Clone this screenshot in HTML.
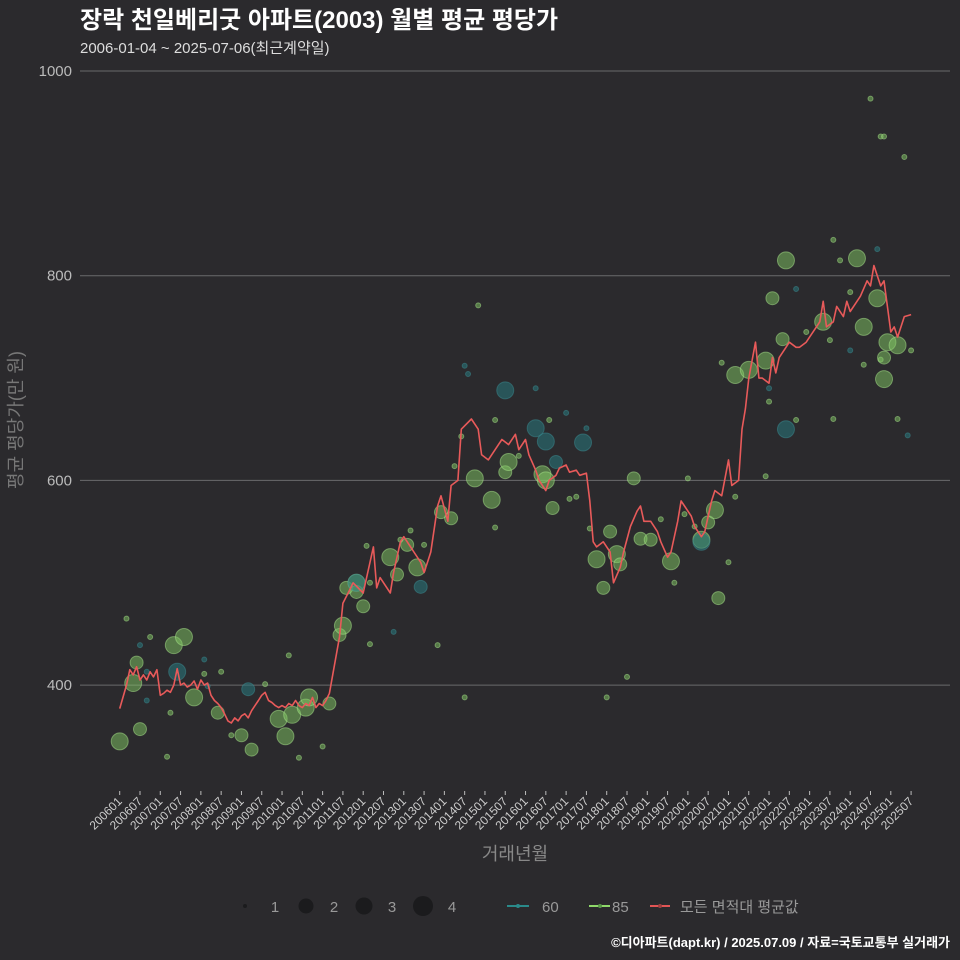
<!DOCTYPE html>
<html><head><meta charset="utf-8">
<style>
html,body{margin:0;padding:0;background:#2b2a2d;}
svg{display:block;font-family:"Liberation Sans","Noto Sans CJK KR",sans-serif;}
</style></head>
<body>
<svg id="chart" width="960" height="960" viewBox="0 0 960 960">
<rect x="0" y="0" width="960" height="960" fill="#2b2a2d"/>
<text x="80" y="28" fill="#ffffff" font-size="24" font-weight="bold">장락 천일베리굿 아파트(2003) 월별 평균 평당가</text>
<text x="80" y="53" fill="#dddddd" font-size="15">2006-01-04 ~ 2025-07-06(최근계약일)</text>
<g id="grid"></g>
<g id="yaxis"></g>
<g id="xaxis"></g>
<g id="points"></g>
<g id="avgline"></g>
<text transform="translate(22,420) rotate(-90)" text-anchor="middle" fill="#777777" font-size="18">평균 평당가(만 원)</text>
<text x="515" y="860" text-anchor="middle" fill="#888888" font-size="18">거래년월</text>
<g>
<circle cx="245" cy="906" r="2" fill="#1b1b1d"/>
<text x="275" y="912" text-anchor="middle" fill="#999" font-size="15">1</text>
<circle cx="306" cy="906" r="7.5" fill="#1b1b1d"/>
<text x="334" y="912" text-anchor="middle" fill="#999" font-size="15">2</text>
<circle cx="364" cy="906" r="8.5" fill="#1b1b1d"/>
<text x="392" y="912" text-anchor="middle" fill="#999" font-size="15">3</text>
<circle cx="423" cy="906" r="10" fill="#1b1b1d"/>
<text x="452" y="912" text-anchor="middle" fill="#999" font-size="15">4</text>
<line x1="507" y1="906" x2="529" y2="906" stroke="#2a8a8a" stroke-width="2"/>
<circle cx="518" cy="906" r="2" fill="#2a8a8a"/>
<text x="542" y="912" fill="#999" font-size="15">60</text>
<line x1="589" y1="906" x2="610" y2="906" stroke="#8fd96a" stroke-width="2"/>
<circle cx="600" cy="906" r="2" fill="#5a9a48"/>
<text x="612" y="912" fill="#999" font-size="15">85</text>
<line x1="650" y1="906" x2="670" y2="906" stroke="#e25555" stroke-width="2"/>
<circle cx="660" cy="906" r="2" fill="#a04040"/>
<text x="680" y="912" fill="#999" font-size="15">모든 면적대 평균값</text>
</g>
<text x="950" y="947" text-anchor="end" fill="#ffffff" font-size="13" font-weight="bold">©디아파트(dapt.kr) / 2025.07.09 / 자료=국토교통부 실거래가</text>
</svg>
<script>
const yTicks = [400, 600, 800, 1000];
const avgMonths = ['200601','200603','200604','200605','200606','200607','200608','200609','200610','200611','200612','200701','200702','200703','200704','200705','200706','200707','200708','200709','200710','200711','200712','200801','200802','200803','200804','200805','200806','200807','200808','200809','200810','200811','200812','200901','200902','200903','200904','200905','200906','200907','200908','200909','200910','200911','200912','201001','201002','201003','201004','201005','201006','201007','201008','201009','201010','201011','201012','201101','201102','201103','201106','201107','201109','201110','201201','201204','201205','201206','201209','201210','201212','201301','201303','201304','201306','201307','201308','201309','201311','201312','201402','201403','201405','201406','201409','201411','201412','201502','201503','201505','201506','201508','201510','201511','201601','201602','201604','201605','201607','201608','201610','201611','201701','201702','201704','201705','201707','201708','201709','201710','201712','201802','201803','201805','201806','201808','201810','201811','201812','201902','201904','201905','201907','201908','201910','201911','201912','202002','202003','202005','202006','202008','202009','202011','202101','202102','202104','202105','202106','202107','202109','202110','202111','202201','202202','202203','202204','202206','202207','202209','202210','202212','202301','202303','202304','202305','202306','202308','202309','202311','202312','202401','202403','202404','202406','202407','202408','202409','202410','202411','202501','202502','202503','202505','202507'];
const avgValues = [377,400,415,410,418,405,410,405,413,408,415,390,392,395,393,400,416,400,402,398,400,404,396,405,400,402,390,385,382,378,372,365,363,368,365,370,372,368,375,380,385,390,393,385,383,380,378,380,378,382,380,385,380,378,382,380,388,378,382,380,385,392,447,480,493,500,490,535,495,505,490,510,540,545,535,530,520,510,520,530,575,585,560,595,600,650,660,650,625,620,625,635,640,635,645,630,640,625,610,600,590,600,605,612,615,608,610,605,607,580,540,535,540,530,500,515,530,555,570,575,560,560,550,540,525,530,560,580,575,565,555,545,550,580,590,585,620,595,600,650,670,700,735,700,700,695,720,705,720,730,735,730,730,735,740,750,755,775,750,755,770,760,775,765,775,780,795,790,810,800,790,795,745,750,740,760,762];
const ptMonths = ['200601','200603','200605','200606','200607','200607','200609','200610','200609','200703','200704','200705','200706','200708','200711','200802','200802','200803','200806','200807','200810','200901','200903','200904','200908','200912','201002','201003','201004','201006','201008','201009','201101','201103','201106','201107','201108','201111','201111','201111','201201','201202','201203','201203','201209','201210','201211','201212','201302','201303','201305','201306','201307','201311','201312','201403','201404','201407','201406','201407','201408','201410','201411','201503','201504','201507','201507','201508','201504','201511','201604','201604','201607','201606','201607','201608','201609','201610','201701','201702','201704','201706','201707','201708','201710','201712','201801','201802','201804','201805','201807','201809','201811','201902','201905','201908','201909','201912','202001','202003','202005','202005','202007','202009','202010','202101','202011','202103','202103','202107','202112','202112','202201','202201','202202','202205','202206','202206','202209','202209','202212','202305','202307','202308','202308','202310','202401','202401','202403','202405','202407','202409','202409','202410','202410','202411','202411','202411','202412','202503','202505','202503','202506','202507','202405'];
const ptValues = [345,465,402,422,357,439,413,447,385,330,373,439,413,447,388,411,425,399,373,413,351,351,396,337,401,367,350,429,371,329,378,388,340,382,449,458,495,500,491,500,477,536,500,440,525,452,508,542,537,551,515,496,537,439,569,563,614,388,643,712,704,602,771,581,659,688,608,618,554,624,690,651,638,606,600,659,573,618,666,582,584,637,651,553,523,495,388,550,528,518,408,602,543,542,562,521,500,567,602,555,542,540,559,571,485,520,715,703,584,708,717,604,690,677,778,738,815,650,659,787,745,755,737,835,660,815,784,727,817,750,973,826,778,718,936,936,720,699,735,732,916,660,644,727,713];
const ptCounts = [3,1,3,2,2,1,1,1,1,1,1,3,3,3,3,1,1,1,2,1,1,2,2,2,1,3,3,1,3,1,3,3,1,2,2,3,2,3,2,3,2,1,1,1,3,1,2,1,2,1,3,2,1,1,2,2,1,1,1,1,1,3,1,3,1,3,2,3,1,1,1,3,3,3,3,1,2,2,1,1,1,3,1,1,3,2,1,2,3,2,1,2,2,2,1,3,1,1,1,1,3,3,2,3,2,1,1,3,1,3,3,1,1,1,2,2,3,3,1,1,1,3,1,1,1,1,1,1,3,3,1,1,3,1,1,1,2,3,3,3,1,1,1,1,1];
const ptTypes = ['85','85','85','85','85','60','60','85','60','85','85','85','60','85','85','85','60','60','85','85','85','85','60','85','85','85','85','85','85','85','85','85','85','85','85','85','85','85','85','60','85','85','85','85','85','60','85','85','85','85','85','60','85','85','85','85','85','85','85','60','60','85','85','85','85','60','85','85','85','85','60','60','60','85','85','85','85','60','60','85','85','60','60','85','85','85','85','85','85','85','85','85','85','85','85','85','85','85','85','85','85','60','85','85','85','85','85','85','85','85','85','85','60','85','85','85','85','60','85','60','85','85','85','85','85','85','85','60','85','85','85','60','85','85','85','85','85','85','85','85','85','85','60','85','85'];

const NS = 'http://www.w3.org/2000/svg';
function mk(tag, attrs, parent){const e=document.createElementNS(NS,tag);for(const k in attrs)e.setAttribute(k,attrs[k]);parent.appendChild(e);return e;}
function monthIndex(ym){return (parseInt(ym.slice(0,4))-2006)*12+parseInt(ym.slice(4,6))-1;}
function xScale(ym){return 119.7+monthIndex(ym)*3.382;}
function yScale(v){return 71+(1000-v)*1.0235;}

const grid=document.getElementById('grid');
const yaxis=document.getElementById('yaxis');
yTicks.forEach(v=>{
  const l=mk('line',{x1:80,x2:950,y1:yScale(v),y2:yScale(v),stroke:'#6a6a6c','stroke-width':1},grid);
  
  
  const t=mk('text',{x:72,y:yScale(v)+5,'text-anchor':'end',fill:'#bbbbbb','font-size':15},yaxis);
  t.textContent=v;
  
  
});
const xaxis=document.getElementById('xaxis');
for(let y=2006;y<=2025;y++){
  ['01','07'].forEach(mm=>{
    const ym=''+y+mm; const x=xScale(ym);
    const tk=mk('line',{x1:x,x2:x,y1:791,y2:795,stroke:'#bbbbbb','stroke-width':1},xaxis);
    
    
    const t=mk('text',{transform:'translate('+(x+3)+',802) rotate(-45)','text-anchor':'end',fill:'#cccccc','font-size':12},xaxis);
    t.textContent=ym;
    
    
  });
}
const radius={1:2.5,2:6.5,3:8.5,4:10};
const pts=document.getElementById('points');
ptMonths.forEach((m,i)=>{
  const teal=ptTypes[i]==='60';
  const c=mk('circle',{cx:xScale(m),cy:yScale(ptValues[i]),r:radius[ptCounts[i]],
    fill:teal?'rgba(40,120,125,0.55)':'rgba(130,200,100,0.5)',
    stroke:teal?'rgba(60,140,145,0.5)':'rgba(170,230,140,0.5)','stroke-width':1},pts);
  
  
});
const ag=document.getElementById('avgline');
const d=avgMonths.map((m,i)=>(i?'L':'M')+xScale(m).toFixed(1)+','+yScale(avgValues[i]).toFixed(1)).join(' ');
const p=mk('path',{d:d,fill:'none',stroke:'#e85a5a','stroke-width':1.6,'stroke-linejoin':'round'},ag);


</script>
</body></html>
